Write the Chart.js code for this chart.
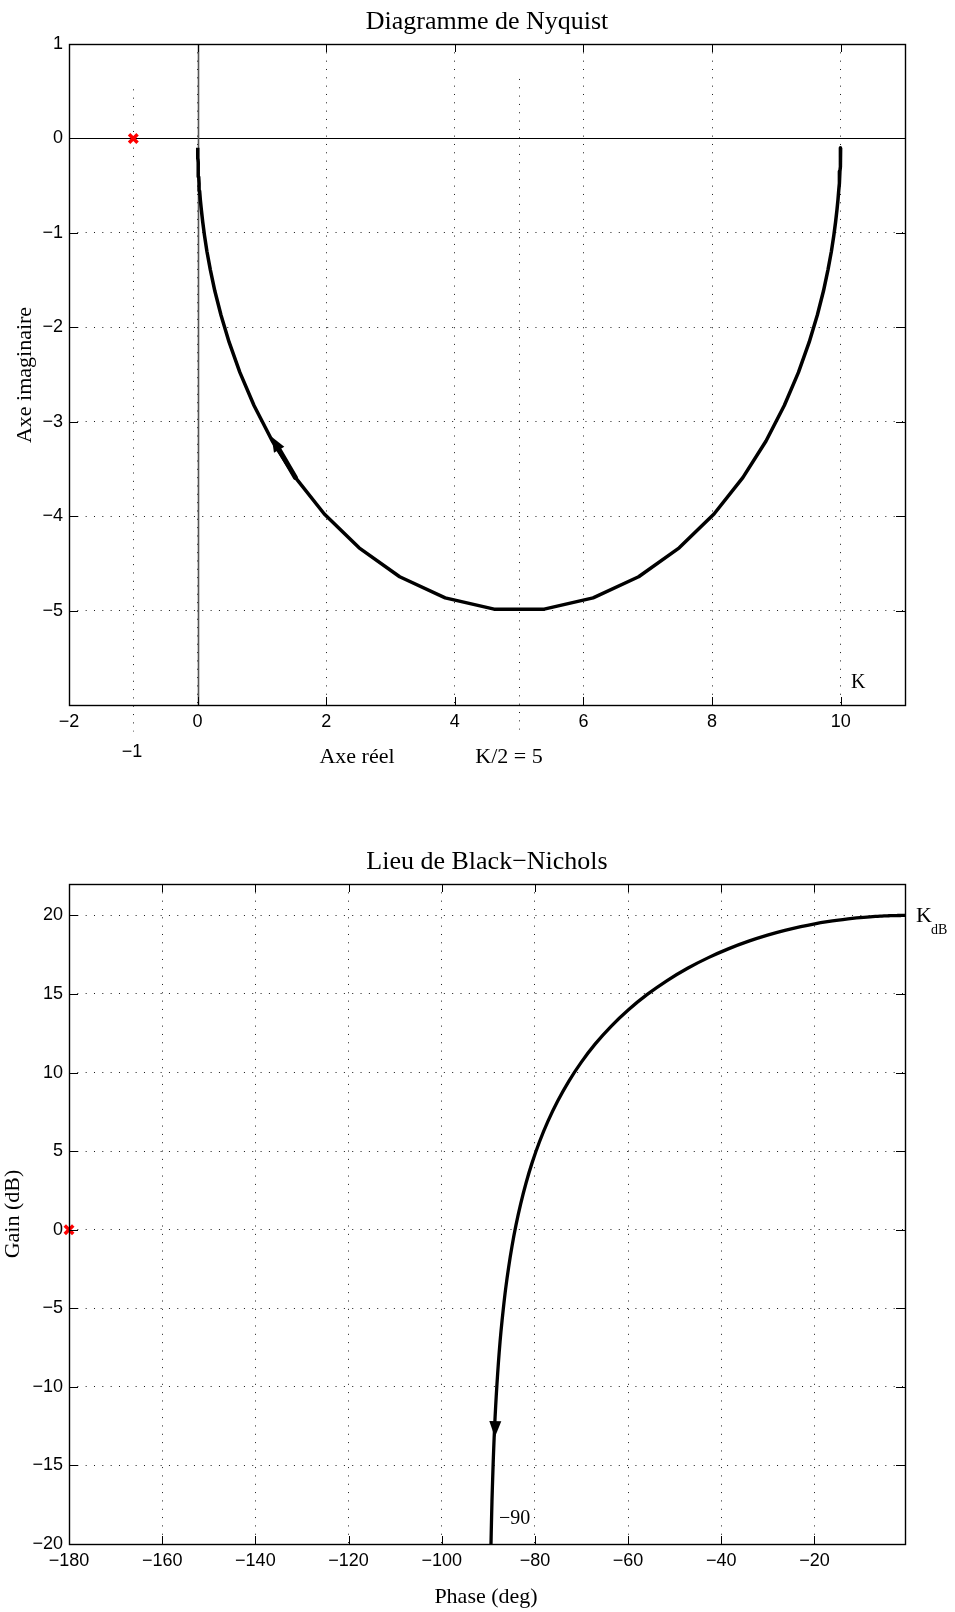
<!DOCTYPE html>
<html><head><meta charset="utf-8">
<script src="https://cdn.jsdelivr.net/npm/chart.js@4"></script>
<style>
html,body{margin:0;padding:0;background:#fff;}
body{width:955px;height:1612px;position:relative;overflow:hidden;}
canvas{position:absolute;left:0;}
#c1{top:0}
#c2{top:790px}
</style></head>
<body>
<canvas id="c1" width="955" height="790"></canvas>
<canvas id="c2" width="955" height="822"></canvas>
<script>
// ---------------- DATA ----------------
const nyqRe = [9.999,9.999,9.998,9.997,9.997,9.995,9.993,9.991,9.988,9.983,
  9.977,9.969,9.958,9.942,9.921,9.893,9.855,9.802,9.732,9.637,
  9.510,9.343,9.123,8.839,8.478,8.030,7.489,6.858,6.150,5.389,
  4.611,3.850,3.142,2.511,1.970,1.522,1.161,0.877,0.657,0.490,
  0.363,0.268,0.198,0.145,0.107,0.079,0.058,0.042,0.031,0.023,
  0.017,0.012,0.009,0.007,0.005,0.003,0.003,0.002,0.001,0.001];
const nyqIm = [-0.100,-0.117,-0.137,-0.160,-0.187,-0.218,-0.255,-0.298,-0.348,-0.407,
  -0.475,-0.555,-0.648,-0.756,-0.882,-1.028,-1.197,-1.392,-1.616,-1.870,
  -2.158,-2.478,-2.828,-3.204,-3.592,-3.977,-4.336,-4.642,-4.866,-4.985,
  -4.985,-4.866,-4.642,-4.336,-3.977,-3.592,-3.204,-2.828,-2.478,-2.158,
  -1.870,-1.616,-1.392,-1.197,-1.028,-0.882,-0.756,-0.648,-0.555,-0.475,
  -0.407,-0.348,-0.298,-0.255,-0.218,-0.187,-0.160,-0.137,-0.117,-0.100];
const nyqXTicks = [-2, 0, 2, 4, 6, 8, 10];
const nyqYTicks = [1, 0, -1, -2, -3, -4, -5];
const nyqXRange = [-2, 11];
const nyqYRange = [-6, 1];
const nyqCritical = [-1, 0];
const nyqGuideX = [-1, 5];
const nyqGuideTop = [0.52, 0.63];
const nyqGuideBottom = [-6.28, -6.26];
const nyqArrowTail = [1.52, -3.59];
const nyqArrowTip = [1.15, -3.16];

// Black-Nichols locus (phase in degrees / gain in dB)
const blackPhase = [-0.573,-0.670,-0.785,-0.917,-1.071,-1.249,-1.461,-1.707,-1.999,-2.331,
  -2.725,-3.188,-3.725,-4.352,-5.080,-5.932,-6.928,-8.082,-9.425,-10.985,
  -12.783,-14.856,-17.226,-19.930,-22.949,-26.348,-30.081,-34.108,-38.368,-42.77,
  -47.23,-51.63,-55.89,-59.92,-63.65,-67.05,-70.07,-72.77,-75.14,-77.22,
  -79.02,-80.58,-81.92,-83.07,-84.07,-84.92,-85.65,-86.28,-86.81,-87.28,
  -87.67,-88.00,-88.29,-88.54,-88.75,-88.93,-89.08,-89.22,-89.33,-89.43];
const blackGain = [20.000,20.000,19.999,19.999,19.998,19.998,19.997,19.996,19.995,19.993,
  19.990,19.987,19.982,19.975,19.966,19.953,19.936,19.913,19.882,19.840,
  19.782,19.705,19.602,19.464,19.283,19.047,18.745,18.362,17.888,17.315,
  16.638,15.855,14.972,13.998,12.945,11.824,10.648,9.429,8.176,6.897,
  5.598,4.285,2.960,1.627,0.287,-1.052,-2.398,-3.749,-5.100,-6.451,
  -7.805,-9.157,-10.513,-11.867,-13.221,-14.577,-15.931,-17.288,-18.643,-20.000];
const blackXTicks = [-180, -160, -140, -120, -100, -80, -60, -40, -20];
const blackYTicks = [-20, -15, -10, -5, 0, 5, 10, 15, 20];
const blackXRange = [-180, -0.573];
const blackYRange = [-20, 22];
const blackCritical = [-180, 0];
const blackArrowTail = [-88.45, -11.6];
const blackArrowTip = [-88.6, -13.2];

// ---------------- RENDERING ----------------
const SERIF = '"Liberation Serif", "Times New Roman", serif';
const SANS = '"Liberation Sans", Arial, sans-serif';
const DOT = [1, 7.33];
const fmt = v => (v < 0 ? '\u2212' + Math.abs(v) : String(v));

function pts(xs, ys) { return xs.map((x, i) => ({x: x, y: ys[i]})); }

function text(ctx, s, x, y, font, align, rot) {
  ctx.save();
  ctx.fillStyle = '#000';
  ctx.font = font;
  ctx.textAlign = align || 'center';
  ctx.textBaseline = 'alphabetic';
  ctx.translate(x, y);
  if (rot) ctx.rotate(rot);
  ctx.fillText(s, 0, 0);
  ctx.restore();
}

function frameAndTicks(chart, xt, yt) {
  const ctx = chart.ctx, a = chart.chartArea, xs = chart.scales.x, ys = chart.scales.y;
  ctx.save();
  ctx.strokeStyle = '#000';
  ctx.lineWidth = 1;
  ctx.setLineDash([]);
  ctx.beginPath();
  xt.forEach(v => {
    const p = Math.round(xs.getPixelForValue(v)) + 0.5;
    ctx.moveTo(p, a.top); ctx.lineTo(p, a.top + 8);
    ctx.moveTo(p, a.bottom); ctx.lineTo(p, a.bottom - 8);
  });
  yt.forEach(v => {
    const p = Math.round(ys.getPixelForValue(v)) + 0.5;
    ctx.moveTo(a.left, p); ctx.lineTo(a.left + 9, p);
    ctx.moveTo(a.right, p); ctx.lineTo(a.right - 9, p);
  });
  ctx.stroke();
  ctx.lineWidth = 1.4;
  ctx.strokeRect(a.left + 0.5, a.top + 0.5, a.right - a.left, a.bottom - a.top);
  ctx.restore();
}

function arrowHead(chart, tail, tip, len, wid, shaft) {
  const ctx = chart.ctx, xs = chart.scales.x, ys = chart.scales.y;
  const tx = xs.getPixelForValue(tail[0]), ty = ys.getPixelForValue(tail[1]);
  const hx = xs.getPixelForValue(tip[0]), hy = ys.getPixelForValue(tip[1]);
  const d = Math.hypot(hx - tx, hy - ty), ux = (hx - tx) / d, uy = (hy - ty) / d;
  const bx = hx - ux * len, by = hy - uy * len;
  ctx.save();
  ctx.fillStyle = '#000'; ctx.strokeStyle = '#000';
  if (shaft) {
    ctx.lineWidth = shaft; ctx.lineCap = 'round';
    ctx.beginPath(); ctx.moveTo(tx, ty); ctx.lineTo(bx, by); ctx.stroke();
  }
  ctx.beginPath();
  ctx.moveTo(hx, hy);
  ctx.lineTo(bx - uy * wid / 2, by + ux * wid / 2);
  ctx.lineTo(bx + uy * wid / 2, by - ux * wid / 2);
  ctx.closePath(); ctx.fill();
  ctx.restore();
}

function scaleOpts(range, ticks, fitSize, horizontal) {
  return {
    type: 'linear', min: range[0], max: range[1],
    afterBuildTicks: s => { s.ticks = ticks.map(v => ({value: v})); },
    afterFit: s => {
      if (horizontal) { s.height = fitSize; } else { s.width = fitSize; }
      s.paddingLeft = 0; s.paddingRight = 0; s.paddingTop = 0; s.paddingBottom = 0;
    },
    grid: {display: true, drawTicks: false, color: '#1a1a1a', lineWidth: 1},
    border: {display: false, dash: DOT},
    ticks: {color: '#000', padding: 6, maxRotation: 0, autoSkip: false,
            font: {family: SANS, size: 18}, callback: v => fmt(v)}
  };
}

const common = {
  responsive: false, animation: false, devicePixelRatio: 1,
  plugins: {legend: {display: false}, tooltip: {enabled: false}, title: {display: false}}
};

// ---- Nyquist ----
new Chart(document.getElementById('c1'), {
  type: 'scatter',
  data: {datasets: [
    {data: pts(nyqRe, nyqIm), showLine: true, pointRadius: 0, borderColor: '#000',
     borderWidth: 3.5, tension: 0, borderJoinStyle: 'round'},
    {data: [{x: nyqCritical[0], y: nyqCritical[1]}], pointStyle: 'crossRot', pointRadius: 6,
     borderWidth: 3.5, borderColor: '#ff0000', backgroundColor: '#ff0000', clip: false}
  ]},
  options: Object.assign({}, common, {
    layout: {padding: {left: 0, top: 44, right: 50, bottom: 0}},
    scales: {
      x: scaleOpts(nyqXRange, nyqXTicks, 85, true),
      y: scaleOpts(nyqYRange, nyqYTicks, 69, false)
    }
  }),
  plugins: [{
    id: 'nyqDeco',
    beforeDatasetsDraw(chart) {
      const ctx = chart.ctx, a = chart.chartArea, xs = chart.scales.x, ys = chart.scales.y;
      ctx.save();
      // extra dotted guides
      ctx.strokeStyle = '#1a1a1a'; ctx.lineWidth = 1; ctx.setLineDash(DOT);
      nyqGuideX.forEach((gx, i) => {
        const p = Math.round(xs.getPixelForValue(gx)) + 0.5;
        ctx.beginPath();
        ctx.moveTo(p, ys.getPixelForValue(nyqGuideTop[i]));
        ctx.lineTo(p, ys.getPixelForValue(nyqGuideBottom[i]));
        ctx.stroke();
      });
      ctx.setLineDash([]);
      // axes through origin
      const y0 = Math.round(ys.getPixelForValue(0)) + 0.5;
      ctx.strokeStyle = '#000'; ctx.lineWidth = 1.2;
      ctx.beginPath(); ctx.moveTo(a.left, y0); ctx.lineTo(a.right, y0); ctx.stroke();
      const x0 = Math.round(xs.getPixelForValue(0)) + 0.5;
      ctx.strokeStyle = '#555'; ctx.lineWidth = 1.6;
      ctx.beginPath(); ctx.moveTo(x0, a.top); ctx.lineTo(x0, a.bottom); ctx.stroke();
      ctx.restore();
    },
    afterDatasetsDraw(chart) {
      frameAndTicks(chart, nyqXTicks, nyqYTicks);
      arrowHead(chart, nyqArrowTail, nyqArrowTip, 15, 12, 5);
    },
    afterDraw(chart) {
      const ctx = chart.ctx;
      text(ctx, 'Diagramme de Nyquist', 487, 29, '26px ' + SERIF);
      text(ctx, 'Axe imaginaire', 31, 375, '22px ' + SERIF, 'center', -Math.PI / 2);
      text(ctx, 'Axe r\u00e9el', 357, 763, '22px ' + SERIF);
      text(ctx, 'K/2 = 5', 509, 763, '22px ' + SERIF);
      text(ctx, '\u22121', 132, 757, '18px ' + SANS);
      text(ctx, 'K', 851, 688, '20px ' + SERIF, 'left');
    }
  }]
});

// ---- Black-Nichols ----
new Chart(document.getElementById('c2'), {
  type: 'scatter',
  data: {datasets: [
    {data: pts(blackPhase, blackGain), showLine: true, pointRadius: 0, borderColor: '#000',
     borderWidth: 3.3, tension: 0.3, borderJoinStyle: 'round'},
    {data: [{x: blackCritical[0], y: blackCritical[1]}], pointStyle: 'crossRot', pointRadius: 6,
     borderWidth: 3.5, borderColor: '#ff0000', backgroundColor: '#ff0000', clip: false}
  ]},
  options: Object.assign({}, common, {
    layout: {padding: {left: 0, top: 94, right: 50, bottom: 0}},
    scales: {
      x: scaleOpts(blackXRange, blackXTicks, 68, true),
      y: scaleOpts(blackYRange, blackYTicks, 69, false)
    }
  }),
  plugins: [{
    id: 'blackDeco',
    afterDatasetsDraw(chart) {
      frameAndTicks(chart, blackXTicks, blackYTicks);
      arrowHead(chart, blackArrowTail, blackArrowTip, 16, 12, 0);
    },
    afterDraw(chart) {
      const ctx = chart.ctx;
      text(ctx, 'Lieu de Black\u2212Nichols', 487, 79, '26px ' + SERIF);
      text(ctx, 'Gain (dB)', 19, 424, '22px ' + SERIF, 'center', -Math.PI / 2);
      text(ctx, 'Phase (deg)', 486, 813, '22px ' + SERIF);
      text(ctx, 'K', 916, 132, '22px ' + SERIF, 'left');
      text(ctx, 'dB', 931, 144, '14px ' + SERIF, 'left');
      text(ctx, '\u221290', 499, 734, '20px ' + SERIF, 'left');
    }
  }]
});
</script>
</body></html>
